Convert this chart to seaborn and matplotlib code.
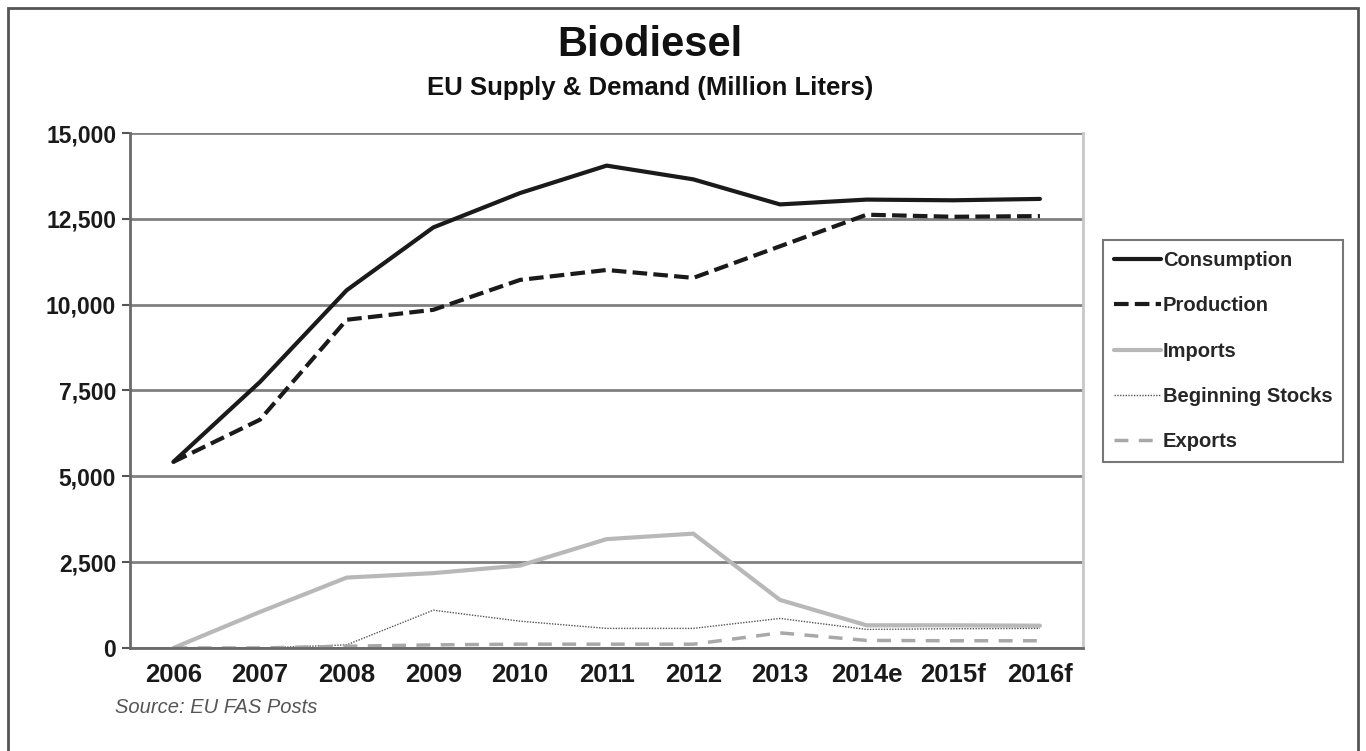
import pandas as pd
import numpy as np
import seaborn as sns
import matplotlib.pyplot as plt
from matplotlib.ticker import FuncFormatter

years = ["2006", "2007", "2008", "2009", "2010", "2011", "2012", "2013", "2014e", "2015f", "2016f"]
consumption = [5420, 7750, 10420, 12250, 13250, 14050, 13650, 12920, 13060, 13040, 13080]
production = [5420, 6650, 9560, 9850, 10720, 11010, 10780, 11700, 12620, 12560, 12580]
imports = [0, 1050, 2050, 2180, 2400, 3170, 3330, 1400, 660, 660, 650]
beginning_stocks = [0, 0, 90, 1100, 780, 570, 570, 860, 540, 560, 570]
exports = [0, 0, 50, 90, 110, 110, 110, 440, 220, 210, 210]

sns.set_theme(style="white")
plt.rcParams["font.family"] = ["Liberation Sans", "DejaVu Sans"]

fig = plt.figure(figsize=(13.66, 7.51), dpi=100)
ax = fig.add_axes([0.0952, 0.1372, 0.6978, 0.6857])

df = pd.DataFrame({"year": years})
series = [
    ("Consumption", consumption, dict(color="#1a1a1a", lw=3.0, ls="-")),
    ("Production", production, dict(color="#1a1a1a", lw=3.0, ls=(0, (3.5, 1.5)))),
    ("Imports", imports, dict(color="#b8b8b8", lw=3.0, ls="-")),
    ("Beginning Stocks", beginning_stocks, dict(color="#555555", lw=1.0, ls=(0, (1, 1)))),
    ("Exports", exports, dict(color="#a8a8a8", lw=2.5, ls=(0, (4, 3)))),
]
for name, vals, st in series:
    df[name] = vals
    sns.lineplot(data=df, x="year", y=name, ax=ax, label=name, sort=False,
                 color=st["color"], linewidth=st["lw"], linestyle=st["ls"])

ax.set_xlim(-0.5, 10.5)
ax.set_ylim(0, 15000)
ax.set_yticks(np.arange(0, 15001, 2500))
ax.yaxis.set_major_formatter(FuncFormatter(lambda v, p: f"{int(v):,}"))
ax.yaxis.grid(True, color="#808080", linewidth=2)
ax.set_axisbelow(True)
ax.set_xlabel("")
ax.set_ylabel("")

ax.set_xticks(np.arange(11))
ax.set_xticklabels(years)
ax.set_xticks(np.arange(-0.5, 11, 1), minor=True)
ax.tick_params(axis="x", which="major", length=0, pad=11)
ax.tick_params(axis="x", which="minor", length=6, width=1.5, color="#555555", direction="out")
ax.tick_params(axis="y", length=6, width=1.5, color="#555555", direction="out", left=True, pad=4)
for lab in ax.get_xticklabels():
    lab.set_fontweight("bold")
    lab.set_fontsize(18.5)
    lab.set_color("#1a1a1a")
for lab in ax.get_yticklabels():
    lab.set_fontweight("bold")
    lab.set_fontsize(16.5)
    lab.set_color("#1a1a1a")

for side in ["left", "bottom"]:
    ax.spines[side].set_color("#6a6a6a")
    ax.spines[side].set_linewidth(2)
ax.spines["top"].set_visible(False)
ax.spines["right"].set_color("#c8c8c8")
ax.spines["right"].set_linewidth(2)

leg = ax.legend(loc="upper left", bbox_to_anchor=(1.021, 0.792), frameon=True,
                fancybox=False, handlelength=2.3, handletextpad=0.1,
                labelspacing=1.3, borderpad=0.55, borderaxespad=0,
                prop={"weight": "bold", "size": 14.5})
leg.get_frame().set_edgecolor("#555555")
leg.get_frame().set_linewidth(1.5)

fig.text(0.476, 0.94, "Biodiesel", ha="center", va="center", fontsize=30, fontweight="bold", color="#111111")
fig.text(0.476, 0.883, "EU Supply & Demand (Million Liters)", ha="center", va="center",
         fontsize=18.5, fontweight="bold", color="#111111")
fig.text(0.084, 0.058, "Source: EU FAS Posts", ha="left", va="center", fontsize=14.5,
         style="italic", color="#555555")

border = plt.Rectangle((0.006, -0.05), 0.988, 1.039, transform=fig.transFigure,
                       fill=False, edgecolor="#555555", linewidth=2)
fig.patches.append(border)

fig.savefig("out.png", dpi=100)
